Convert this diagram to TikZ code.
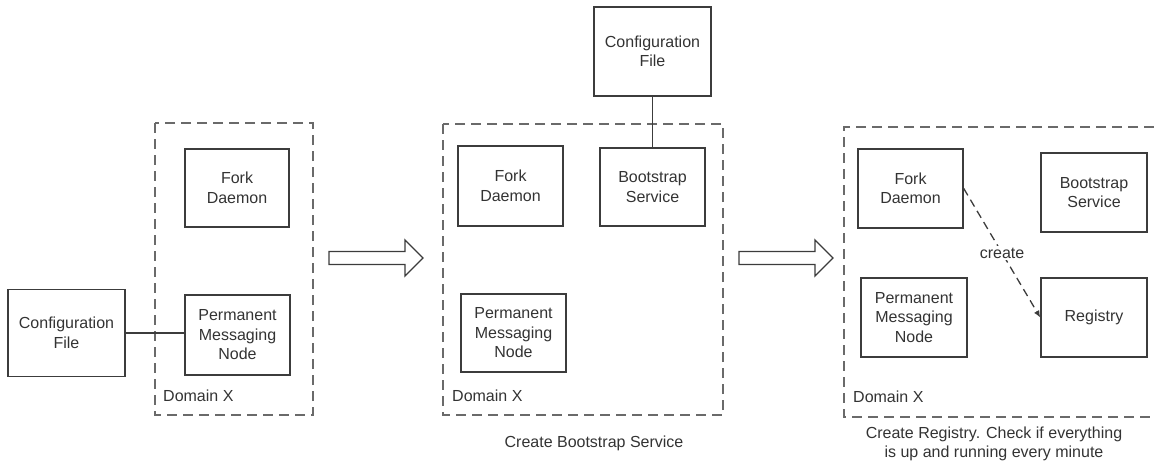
\documentclass[tikz,border=0pt]{standalone}
\usepackage{fontspec}
\setmainfont{Liberation Sans}
\usetikzlibrary{arrows.meta}
\definecolor{boxc}{HTML}{3C3C3C}
\definecolor{dashc}{HTML}{6A6A6A}
\definecolor{txtc}{HTML}{333333}
\begin{document}
\begin{tikzpicture}[x=1pt,y=-1pt,
  font=\fontsize{16}{19.5}\selectfont,
  every node/.style={text=txtc},
  box/.style={draw=boxc, line width=1.5pt, align=center, inner sep=0pt},
  domainbox/.style={draw=dashc, line width=2pt, dash pattern=on 10pt off 6pt},
  link/.style={draw=boxc, line width=1.3pt},
  blockarrow/.style={draw=boxc, line width=1.3pt, fill=white},
  lbl/.style={anchor=west, inner sep=0pt},
  caption/.style={align=center, inner sep=0pt, font=\fontsize{16}{18.5}\selectfont}]
\useasboundingbox (0,0) rectangle (1154,466);
\clip (0,0) rectangle (1154,466);

% ---------- left panel ----------
\draw[domainbox] (155,123) rectangle (313,415);
\node[box, minimum width=117pt, minimum height=87pt] (cfg1) at (66.5,333) {Configuration\\File};
\node[box, minimum width=104pt, minimum height=78pt] (fd1) at (237,188) {Fork\\Daemon};
\node[box, minimum width=105pt, minimum height=80pt] (pmn1) at (237.5,335) {Permanent\\Messaging\\Node};
\node[lbl] (dl1) at (163,396) {Domain X};
\draw[link] (cfg1.east) -- (pmn1.west |- cfg1.east);

% ---------- arrow 1 ----------
\draw[blockarrow] (329,251.5) -- (405,251.5) -- (405,240) -- (423,258) -- (405,276) -- (405,264.5) -- (329,264.5) -- cycle;

% ---------- middle panel ----------
\draw[domainbox] (443,124) rectangle (723,415);
\node[box, minimum width=117pt, minimum height=89pt] (cfg2) at (652.5,51.5) {Configuration\\File};
\node[box, minimum width=105pt, minimum height=80pt] (fd2) at (510.5,186) {Fork\\Daemon};
\node[box, minimum width=105pt, minimum height=78pt] (bs2) at (652.5,187) {Bootstrap\\Service};
\node[box, minimum width=105pt, minimum height=78pt] (pmn2) at (513.5,333) {Permanent\\Messaging\\Node};
\node[lbl] (dl2) at (452,396) {Domain X};
\draw[link] (cfg2.south) -- (bs2.north);
\node[caption] (cap2) at (594,443) {Create Bootstrap Service};

% ---------- arrow 2 ----------
\draw[blockarrow] (739,251.5) -- (815,251.5) -- (815,240) -- (833,258) -- (815,276) -- (815,264.5) -- (739,264.5) -- cycle;

% ---------- right panel ----------
\draw[domainbox] (1170,127) -- (844,127) -- (844,417) -- (1170,417);
\node[box, minimum width=105pt, minimum height=79pt] (fd3) at (910.5,188.5) {Fork\\Daemon};
\node[box, minimum width=106pt, minimum height=79pt] (bs3) at (1094,192.5) {Bootstrap\\Service};
\node[box, minimum width=106pt, minimum height=79pt] (pmn3) at (914,317.5) {Permanent\\Messaging\\Node};
\node[box, minimum width=106pt, minimum height=79pt] (reg3) at (1094,317.5) {Registry};
\node[lbl] (dl3) at (853,397) {Domain X};
\draw[draw=boxc, line width=1.3pt, dash pattern=on 8pt off 5pt, -{Latex[length=7pt,width=6pt]}]
  (fd3.east) -- node[midway, fill=white, inner sep=2pt] (crt) {create} (reg3.west);
\node[caption] (cap3) at (994,444) {Create Registry. Check if everything\\is up and running every minute};
\end{tikzpicture}
\end{document}
